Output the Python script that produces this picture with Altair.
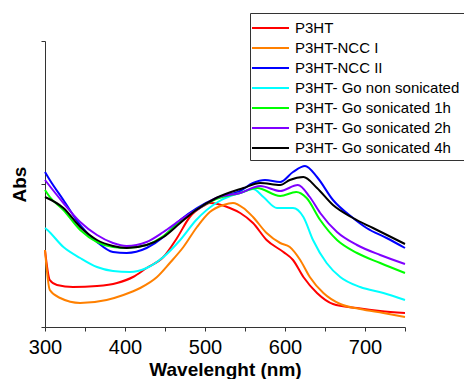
import altair as alt
import pandas as pd

series_names = ["P3HT", "P3HT-NCC I", "P3HT-NCC II", "P3HT- Go non sonicated",
                "P3HT- Go sonicated 1h", "P3HT- Go sonicated 2h", "P3HT- Go sonicated 4h"]
series_colors = ["#ff0000", "#ff8000", "#0000ff", "#00ffff", "#00ff00", "#8000ff", "#000000"]

red_w = [300, 306, 315, 335, 365, 390, 410, 427, 448, 465, 481, 498, 506, 531, 544, 560, 577, 598, 610, 623, 640, 660, 690, 719, 750]
red_v = [0.77, 0.47, 0.42, 0.40, 0.41, 0.44, 0.50, 0.59, 0.70, 0.89, 1.10, 1.21, 1.24, 1.19, 1.14, 1.04, 0.87, 0.75, 0.67, 0.50, 0.34, 0.23, 0.19, 0.16, 0.14]

orange_w = [300, 306, 319, 344, 377, 398, 419, 440, 456, 473, 490, 506, 523, 535, 548, 560, 577, 594, 606, 619, 631, 648, 669, 694, 723, 750]
orange_v = [0.77, 0.37, 0.29, 0.24, 0.27, 0.32, 0.39, 0.50, 0.64, 0.80, 1.00, 1.15, 1.22, 1.24, 1.19, 1.10, 0.94, 0.84, 0.80, 0.67, 0.50, 0.34, 0.23, 0.18, 0.14, 0.10]

blue_w = [300, 306, 323, 344, 365, 385, 402, 427, 448, 469, 490, 515, 544, 560, 575, 594, 610, 625, 640, 660, 685, 702, 727, 750]
blue_v = [1.55, 1.47, 1.27, 1.02, 0.85, 0.75, 0.74, 0.79, 0.90, 1.07, 1.19, 1.29, 1.36, 1.44, 1.47, 1.45, 1.55, 1.61, 1.50, 1.27, 1.09, 0.99, 0.89, 0.79]

cyan_w = [300, 303, 323, 344, 365, 385, 406, 427, 448, 469, 489, 514, 535, 544, 560, 573, 590, 610, 623, 635, 652, 669, 694, 723, 750]
cyan_v = [0.99, 0.97, 0.80, 0.69, 0.60, 0.56, 0.55, 0.59, 0.70, 0.87, 1.07, 1.24, 1.32, 1.34, 1.38, 1.30, 1.19, 1.19, 1.10, 0.87, 0.64, 0.50, 0.40, 0.34, 0.27]

green_w = [300, 306, 323, 344, 365, 385, 402, 427, 448, 469, 489, 514, 544, 565, 594, 614, 627, 644, 665, 690, 719, 750]
green_v = [1.37, 1.30, 1.17, 0.97, 0.85, 0.80, 0.79, 0.82, 0.91, 1.05, 1.17, 1.28, 1.34, 1.39, 1.31, 1.35, 1.29, 1.07, 0.87, 0.74, 0.64, 0.54]

purple_w = [300, 323, 344, 365, 385, 402, 427, 448, 469, 489, 514, 544, 569, 594, 616, 631, 644, 665, 690, 719, 750]
purple_v = [1.47, 1.24, 1.05, 0.92, 0.84, 0.81, 0.85, 0.95, 1.07, 1.17, 1.29, 1.34, 1.41, 1.36, 1.42, 1.30, 1.14, 0.95, 0.82, 0.72, 0.63]

black_w = [300, 323, 344, 365, 385, 402, 427, 448, 469, 489, 514, 548, 569, 594, 606, 623, 640, 660, 685, 710, 750]
black_v = [1.30, 1.19, 1.00, 0.87, 0.81, 0.79, 0.82, 0.90, 1.04, 1.17, 1.29, 1.39, 1.44, 1.42, 1.47, 1.50, 1.39, 1.22, 1.09, 0.99, 0.83]

all_w = [red_w, orange_w, blue_w, cyan_w, green_w, purple_w, black_w]
all_v = [red_v, orange_v, blue_v, cyan_v, green_v, purple_v, black_v]

rows = []
for i, (name, ws, vs) in enumerate(zip(series_names, all_w, all_v)):
    for w, v in zip(ws, vs):
        rows.append({"Series": name, "Wavelength": w, "Abs": v, "order": i})
df = pd.DataFrame(rows)

x_ticks = [300, 350, 400, 450, 500, 550, 600, 650, 700, 750]
y_ticks = [0, 1.43, 2.86]

FONT = "Liberation Sans"

chart = alt.Chart(df).mark_line(strokeWidth=2, interpolate="monotone").encode(
    x=alt.X("Wavelength:Q",
            scale=alt.Scale(domain=[300, 750], nice=False, zero=False),
            axis=alt.Axis(values=x_ticks, title="Wavelenght (nm)",
                          labelExpr="datum.value % 100 == 0 ? datum.label : ''",
                          labelFlush=False,
                          grid=False, tickSize=4, labelFontSize=20, labelFont=FONT,
                          labelColor="black", titleFontSize=19, titleFont=FONT,
                          titleFontWeight="bold", titlePadding=3, labelPadding=6,
                          domainColor="#333333", tickColor="#333333")),
    y=alt.Y("Abs:Q",
            scale=alt.Scale(domain=[0, 2.86], nice=False),
            axis=alt.Axis(values=y_ticks, labels=False, title="Abs", grid=False,
                          tickSize=4, titleFontSize=19, titleFont=FONT,
                          titleFontWeight="bold", titlePadding=11,
                          domainColor="#333333", tickColor="#333333")),
    color=alt.Color("Series:N",
                    scale=alt.Scale(domain=series_names, range=series_colors),
                    legend=alt.Legend(title=None, orient="none", legendX=205, legendY=-28,
                                      symbolType="M-1.3,0L2.4,0", symbolSize=400,
                                      symbolStrokeWidth=2, labelFontSize=15,
                                      labelFont=FONT, labelLimit=400,
                                      labelOffset=19, rowPadding=1, padding=4,
                                      strokeColor="#333333", fillColor="white")),
    detail="Series:N",
    order="order:Q",
).properties(
    width=360, height=286,
    autosize=alt.AutoSizeParams(type="none"),
    padding={"left": 37, "top": 33, "right": 59, "bottom": 52},
).configure_view(stroke=None)

chart.save("out.html", embed_options={"renderer": "svg", "actions": False})
